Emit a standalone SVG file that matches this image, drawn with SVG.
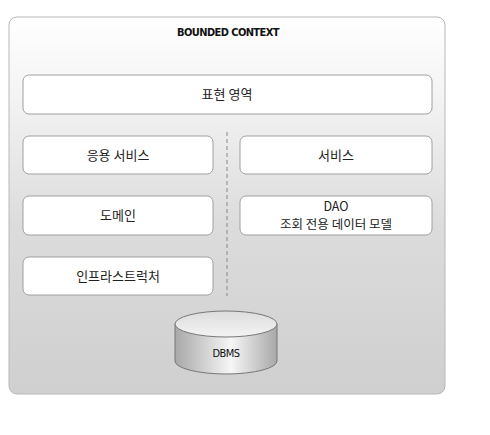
<svg xmlns="http://www.w3.org/2000/svg" width="490" height="435" viewBox="0 0 490 435">
<defs>
<linearGradient id="bg" x1="0" y1="0" x2="0" y2="1">
<stop offset="0" stop-color="#ffffff"/>
<stop offset="0.2" stop-color="#f4f4f4"/>
<stop offset="0.55" stop-color="#dcdcdc"/>
<stop offset="1" stop-color="#cfcfcf"/>
</linearGradient>
<linearGradient id="cyl" x1="0" y1="0" x2="1" y2="0">
<stop offset="0" stop-color="#a8a8a8"/>
<stop offset="0.55" stop-color="#f6f6f6"/>
<stop offset="1" stop-color="#a8a8a8"/>
</linearGradient>
<linearGradient id="cyltop" x1="0" y1="0" x2="0" y2="1">
<stop offset="0" stop-color="#dcdcdc"/>
<stop offset="1" stop-color="#f4f4f4"/>
</linearGradient>
<style>
.box{fill:#ffffff;stroke:#a0a0a0;stroke-width:1}
.kt{font-family:"Noto Sans CJK KR","Noto Sans",sans-serif;font-size:13px;fill:#222;text-anchor:middle}
.et{font-family:"DejaVu Sans Condensed","DejaVu Sans",sans-serif;font-size:11px;fill:#111;text-anchor:middle;letter-spacing:-0.6px;font-weight:bold}
</style>
</defs>
<g id="bounded-context">
<rect x="9" y="17" width="436" height="377" rx="8" fill="url(#bg)" stroke="#b8b8b8"/>
<text class="et" x="228" y="36" font-weight="normal" style="font-weight:600">BOUNDED  CONTEXT</text>
</g>
<g id="presentation">
<rect class="box" x="23" y="75" width="409" height="39" rx="6"/>
<text class="kt" x="227" y="99">표현 영역</text>
</g>
<g id="app-service">
<rect class="box" x="23" y="136" width="190" height="38" rx="6"/>
<text class="kt" x="118" y="160">응용 서비스</text>
</g>
<g id="service">
<rect class="box" x="240" y="136" width="192" height="38" rx="6"/>
<text class="kt" x="336" y="160">서비스</text>
</g>
<g id="domain">
<rect class="box" x="23" y="196" width="190" height="39" rx="6"/>
<text class="kt" x="118" y="220">도메인</text>
</g>
<g id="dao">
<rect class="box" x="240" y="196" width="192" height="39" rx="6"/>
<text class="kt" x="336" y="211" style="font-size:12.5px">DAO</text>
<text class="kt" x="336" y="229" style="font-size:12.5px">조회 전용 데이터 모델</text>
</g>
<g id="infra">
<rect class="box" x="23" y="257" width="190" height="38" rx="6"/>
<text class="kt" x="118" y="281">인프라스트럭처</text>
</g>
<g id="connectors">
<line x1="227" y1="132" x2="227" y2="296" stroke="#888" stroke-width="1" stroke-dasharray="4,3"/>
</g>
<g id="dbms">
<path d="M175,324 L175,361 A51,13 0 0 0 277,361 L277,324 Z" fill="url(#cyl)" stroke="#777"/>
<ellipse cx="226" cy="324" rx="51" ry="13" fill="url(#cyltop)" stroke="#777"/>
<text class="et" x="226" y="357" style="font-weight:normal">DBMS</text>
</g>
</svg>
